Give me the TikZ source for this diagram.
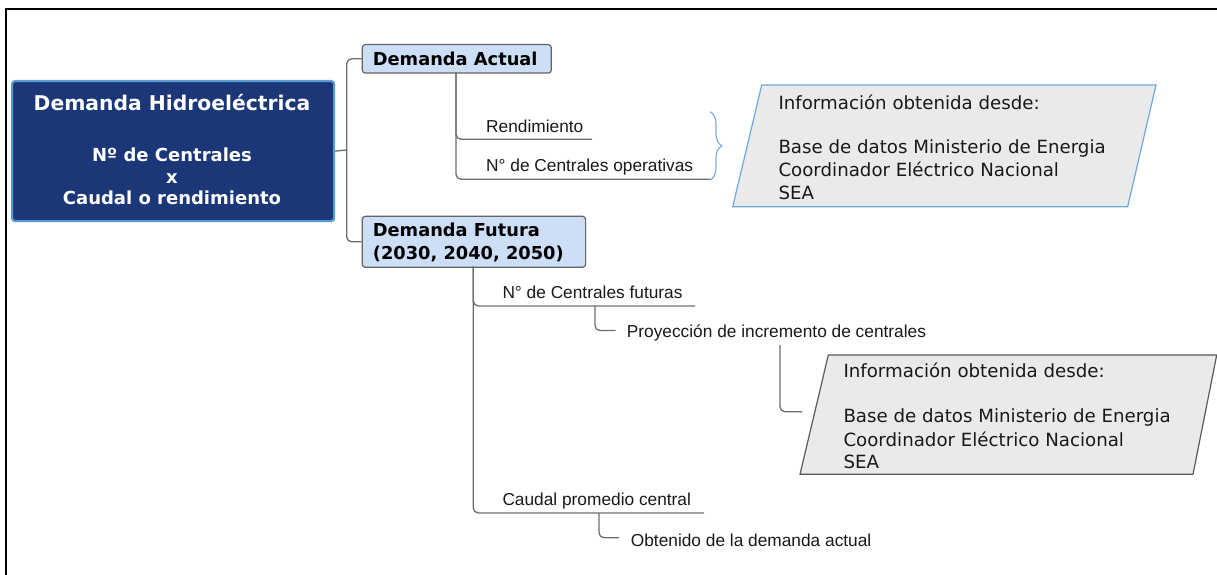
\documentclass[tikz,border=0pt]{standalone}
\usepackage{fontspec}
\setmainfont{Liberation Sans}
\newfontfamily\dvs{DejaVu Sans}
\usetikzlibrary{decorations.pathreplacing}
\definecolor{mainfill}{RGB}{27,55,120}
\definecolor{mainedge}{RGB}{91,155,213}
\definecolor{subfill}{RGB}{205,223,247}
\definecolor{subedge}{RGB}{100,100,100}
\definecolor{conncol}{RGB}{110,110,110}
\definecolor{parafill}{RGB}{234,234,234}
\definecolor{paraedgeA}{RGB}{111,168,224}
\definecolor{paraedgeB}{RGB}{90,90,90}
\definecolor{bracecol}{RGB}{127,176,224}
\definecolor{txt}{RGB}{25,25,25}
\tikzset{
  mainbox/.style={draw=mainedge, fill=mainfill, line width=2.2pt, rounded corners=3pt, inner sep=0pt, anchor=north west},
  subbox/.style={draw=subedge, fill=subfill, line width=1.2pt, rounded corners=3pt, inner sep=0pt, anchor=north west},
  maintitle/.style={text=white, font=\dvs\bfseries\fontsize{20.3}{24}\selectfont, anchor=base, inner sep=0pt},
  mainline/.style={text=white, font=\dvs\bfseries\fontsize{18}{22}\selectfont, anchor=base, inner sep=0pt},
  subtxt/.style={text=black, font=\dvs\bfseries\fontsize{17.8}{22}\selectfont, anchor=base west, inner sep=0pt},
  lbl/.style={text=txt, font=\fontsize{17.3}{20}\selectfont, anchor=base west, inner sep=0pt},
  infotxt/.style={text=txt, font=\dvs\fontsize{18.2}{22}\selectfont, anchor=base west, inner sep=0pt},
  conn/.style={draw=conncol, line width=1.3pt, rounded corners=5pt},
  paraA/.style={draw=paraedgeA, fill=parafill, line width=1.2pt},
  paraB/.style={draw=paraedgeB, fill=parafill, line width=1.2pt},
  bracestyle/.style={draw=bracecol, line width=1.2pt, decorate, decoration={brace, amplitude=12pt}},
  frame/.style={draw=black, line width=2.2pt},
}
\begin{document}
\begin{tikzpicture}[x=1pt,y=-1pt]
\useasboundingbox (0,0) rectangle (1217,575);
% outer frame
\coordinate (fA) at (6.3,575);
\coordinate (fB) at (6.3,9);
\coordinate (fC) at (1217,9);
\draw[frame] (fA) -- (fB) -- (fC);

% main box
\node[mainbox, minimum width=322, minimum height=140] (main) at (11,80) {};
\node[maintitle] (mt1) at (172,111) {Demanda Hidroeléctrica};
\node[mainline] (mt2) at (172,161) {Nº de Centrales};
\node[mainline] (mt3) at (172,183.3) {x};
\node[mainline] (mt4) at (172,204) {Caudal o rendimiento};

% second level boxes
\node[subbox, minimum width=189, minimum height=28.5] (da) at (361.7,44) {};
\node[subtxt] (dat) at (372.7,66) {Demanda Actual};
\node[subbox, minimum width=223.3, minimum height=51] (df) at (361.7,215.7) {};
\node[subtxt] (dft1) at (372.7,236.7) {Demanda Futura};
\node[subtxt] (dft2) at (372.7,259) {(2030, 2040, 2050)};

% main connector
\coordinate (j1) at (346.7,150);
\draw[conn] (main.east) -- (j1);
\draw[conn] (da.west) -| (j1) |- (df.west);

% Demanda Actual branch
\coordinate (da0) at (456,72.3);
\coordinate (a1) at (592,139.3);
\coordinate (a2) at (710,179.3);
\draw[conn] (da0) |- (a1);
\draw[conn] (da0) |- (a2);
\node[lbl] (rend) at (486,132) {Rendimiento};
\node[lbl] (nco) at (486,171.7) {N° de Centrales operativas};

% brace
\coordinate (br1) at (710,111.7);
\coordinate (br2) at (710,180);
\draw[bracestyle] (br1) -- (br2);

% info box 1
\coordinate (p1a) at (761.7,85);
\coordinate (p1b) at (1156,85);
\coordinate (p1c) at (1127.7,206.7);
\coordinate (p1d) at (732.7,206.7);
\draw[paraA] (p1a) -- (p1b) -- (p1c) -- (p1d) -- cycle;
\node[infotxt] (i1a) at (778.3,109.3) {Información obtenida desde:};
\node[infotxt] (i1b) at (778.3,153.3) {Base de datos Ministerio de Energia};
\node[infotxt] (i1c) at (778.3,176.3) {Coordinador Eléctrico Nacional};
\node[infotxt] (i1d) at (778.3,199) {SEA};

% Demanda Futura branch
\coordinate (df0) at (473.3,266.7);
\coordinate (f1) at (695,306);
\coordinate (f2) at (704,513);
\draw[conn] (df0) |- (f1);
\draw[conn] (df0) |- (f2);
\node[lbl] (ncf) at (502.3,298) {N° de Centrales futuras};
\node[lbl] (cpc) at (502.3,505) {Caudal promedio central};

% sub branches
\coordinate (s1a) at (595,306);
\coordinate (s1b) at (615.7,330.5);
\draw[conn] (s1a) |- (s1b);
\node[lbl] (proy) at (626.7,337) {Proyección de incremento de centrales};

\coordinate (s2a) at (599,513);
\coordinate (s2b) at (619,537.7);
\draw[conn] (s2a) |- (s2b);
\node[lbl] (obt) at (630.7,546) {Obtenido de la demanda actual};

\coordinate (s3a) at (780,345);
\coordinate (s3b) at (802,411.7);
\draw[conn] (s3a) |- (s3b);

% info box 2
\coordinate (p2a) at (828.3,355);
\coordinate (p2b) at (1216.7,355);
\coordinate (p2c) at (1193,474.3);
\coordinate (p2d) at (800,474.3);
\draw[paraB] (p2a) -- (p2b) -- (p2c) -- (p2d) -- cycle;
\node[infotxt] (i2a) at (843.3,377.3) {Información obtenida desde:};
\node[infotxt] (i2b) at (843.3,422.7) {Base de datos Ministerio de Energia};
\node[infotxt] (i2c) at (843.3,446) {Coordinador Eléctrico Nacional};
\node[infotxt] (i2d) at (843.3,468.3) {SEA};
\end{tikzpicture}
\end{document}
